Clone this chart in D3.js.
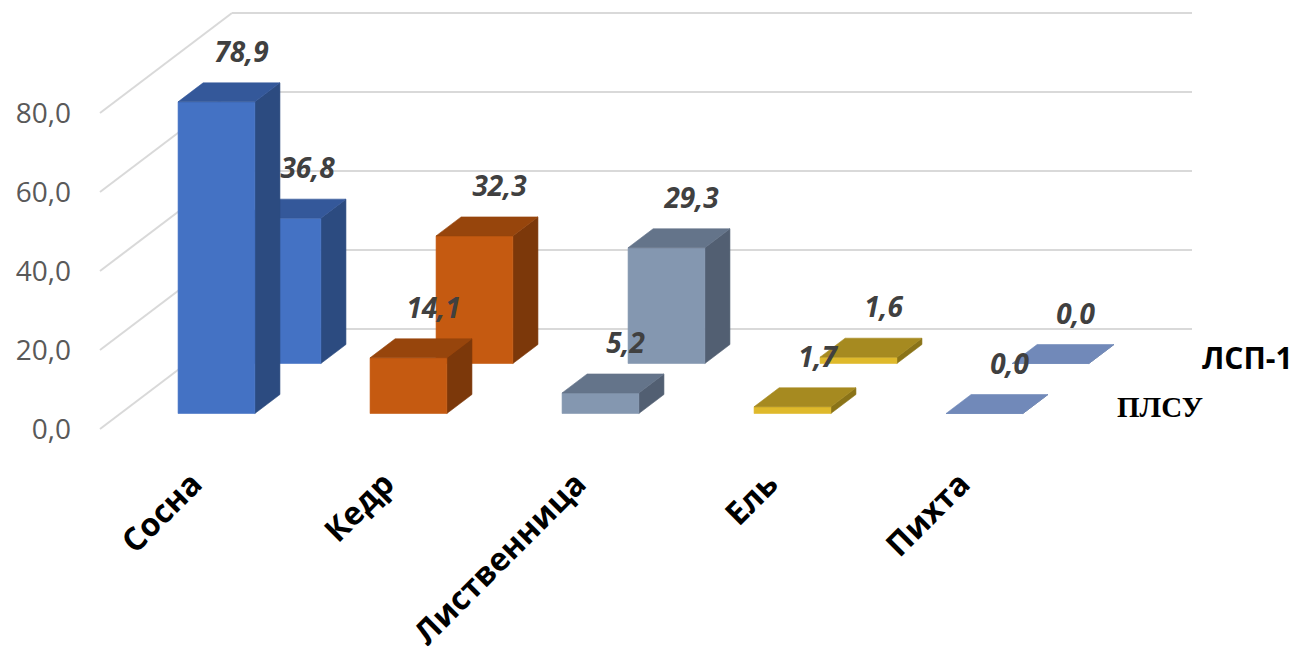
<!DOCTYPE html>
<html>
<head>
<meta charset="utf-8">
<script src="https://cdn.jsdelivr.net/npm/d3@7"></script>
<style>
  html, body { margin: 0; padding: 0; background: #ffffff; }
  svg { display: block; }
</style>
</head>
<body>
<svg id="chart" width="1304" height="658"></svg>
<script>
// ---- data ----
const categories = ["Сосна", "Кедр", "Лиственница", "Ель", "Пихта"];
const seriesNames = ["ПЛСУ", "ЛСП-1"];
const valuesPLSU = [78.9, 14.1, 5.2, 1.7, 0.0];
const valuesLSP1 = [36.8, 32.3, 29.3, 1.6, 0.0];
const yTicks = [0, 20, 40, 60, 80];
const frontColors = ["#4472C4", "#C55A11", "#8497B0", "#DFB92B", "#7790BF"];
const topColors   = ["#34589A", "#97450C", "#64748A", "#A68A20", "#7189B9"];
const sideColors  = ["#2C4B80", "#7C380A", "#525F72", "#8A7318", "#5E739A"];

const svg = d3.select("#chart");
const W = 1304, H = 658;
svg.append("rect").attr("width", W).attr("height", H).attr("fill", "#fff");

// ---- scales ----
const x = d3.scaleBand().domain(categories).range([100, 1060]).padding(0);
const y = d3.scaleLinear().domain([0, 80]).range([429, 113]);
const z = d3.scaleBand().domain(seriesNames).range([0, 100]).padding(0);
const K = 1.32;               // horizontal shift per unit of depth
const barW = x.bandwidth() * 0.4;
const barD = z.bandwidth() * 0.38;

function P(px, v, d) { return [px + d * K, y(v) - d]; }
const line = d3.line();

// ---- gridlines (side wall + back wall) ----
const grid = svg.append("g").attr("fill", "none").attr("stroke", "#D9D9D9").attr("stroke-width", 2);
yTicks.forEach(t => {
  grid.append("path").attr("d", line([P(x.range()[0], t, 0), P(x.range()[0], t, 100)]));
  grid.append("path").attr("d", line([P(x.range()[0], t, 100), P(x.range()[1], t, 100)]));
});

// ---- y axis labels ----
svg.append("g").selectAll("text").data(yTicks).join("text")
  .attr("x", 71).attr("y", d => y(d)).attr("dy", "0.36em")
  .attr("text-anchor", "end")
  .attr("font-family", "'Open Sans', sans-serif").attr("font-size", 28)
  .attr("fill", "#595959")
  .text(d => d3.format(".1f")(d).replace(".", ","));

// ---- bars ----
function drawRow(values, sName, g) {
  const d0 = z(sName) + (z.bandwidth() - barD) / 2;
  const d1 = d0 + barD;
  values.forEach((v, i) => {
    const x0 = x(categories[i]) + (x.bandwidth() - barW) / 2;
    const x1 = x0 + barW;
    const bg = g.append("g");
    // side
    bg.append("path").attr("fill", sideColors[i]).attr("stroke", sideColors[i]).attr("stroke-width", 0.6)
      .attr("d", line([P(x1, v, d0), P(x1, v, d1), P(x1, 0, d1), P(x1, 0, d0)]) + "Z");
    // front
    bg.append("path").attr("fill", frontColors[i]).attr("stroke", frontColors[i]).attr("stroke-width", 0.6)
      .attr("d", line([P(x0, v, d0), P(x1, v, d0), P(x1, 0, d0), P(x0, 0, d0)]) + "Z");
    // top
    bg.append("path").attr("fill", topColors[i]).attr("stroke", topColors[i]).attr("stroke-width", 0.6)
      .attr("d", line([P(x0, v, d0), P(x1, v, d0), P(x1, v, d1), P(x0, v, d1)]) + "Z");
  });
  values.forEach((v, i) => {
    const x0 = x(categories[i]) + (x.bandwidth() - barW) / 2;
    const pt = P(x0 + barW / 2, v, d1);
    g.append("text")
      .attr("x", pt[0]).attr("y", pt[1] - 21)
      .attr("text-anchor", "middle")
      .attr("font-family", "'Open Sans', sans-serif").attr("font-size", 28)
      .attr("font-weight", "bold").attr("font-style", "italic")
      .attr("fill", "#404040")
      .text(d3.format(".1f")(v).replace(".", ","));
  });
}
drawRow(valuesLSP1, "ЛСП-1", svg.append("g"));
drawRow(valuesPLSU, "ПЛСУ", svg.append("g"));

// ---- category labels ----
svg.append("g").selectAll("text").data(categories).join("text")
  .attr("transform", d => `translate(${x(d) + x.bandwidth() / 2 + 8},486) rotate(-45)`)
  .attr("text-anchor", "end")
  .attr("font-family", "'Open Sans', sans-serif").attr("font-size", 32)
  .attr("font-weight", "bold").attr("fill", "#000")
  .text(d => d);

// ---- depth (series) labels ----
const edgeBack = P(x.range()[1], 0, z("ЛСП-1") + z.bandwidth() / 2);
svg.append("text")
  .attr("x", edgeBack[0] + 43).attr("y", edgeBack[1] + 15)
  .attr("font-family", "'Open Sans', sans-serif").attr("font-size", 30)
  .attr("font-weight", "bold").attr("fill", "#000")
  .text(seriesNames[1]);
const edgeFront = P(x.range()[1], 0, z("ПЛСУ") + z.bandwidth() / 2);
svg.append("text")
  .attr("x", edgeFront[0] + 24).attr("y", edgeFront[1] + 13)
  .attr("font-family", "'Liberation Serif', 'Times New Roman', serif").attr("font-size", 29)
  .attr("font-weight", "bold").attr("fill", "#000")
  .text(seriesNames[0]);
</script>
</body>
</html>
